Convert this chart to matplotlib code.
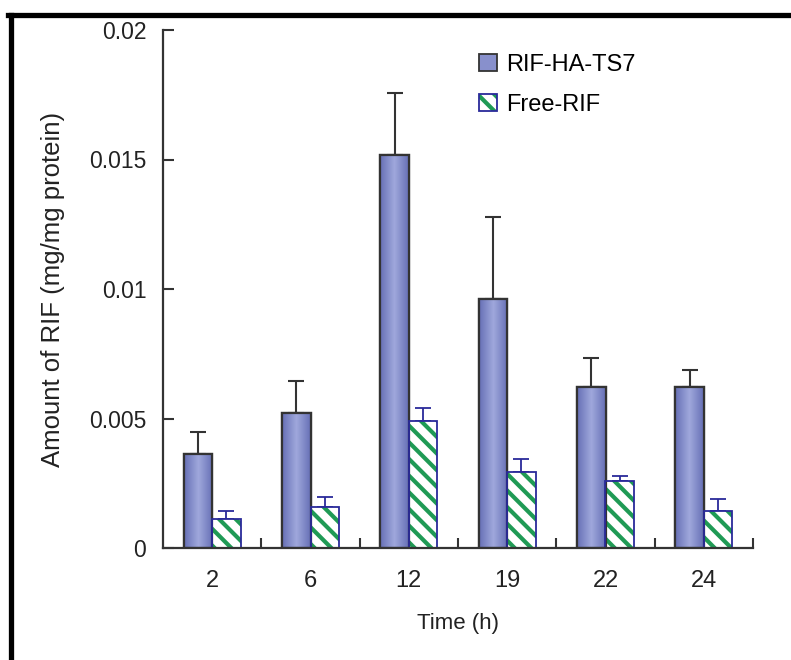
import numpy as np
import matplotlib
matplotlib.use('Agg')
import matplotlib.pyplot as plt
from matplotlib.lines import Line2D
from matplotlib.patches import Patch
from matplotlib.colors import LinearSegmentedColormap
from matplotlib.ticker import FuncFormatter, FixedLocator

plt.rcParams['font.family'] = ['Liberation Sans', 'DejaVu Sans']
plt.rcParams['hatch.linewidth'] = 3.0
FONT = 16

# ── Data ──────────────────────────────────────────────────────────────────────
times = ['2', '6', '12', '19', '22', '24']
conj_mean = [0.00363, 0.00522, 0.01517, 0.00961, 0.00622, 0.00622]
conj_err  = [0.00085, 0.00122, 0.00240, 0.00317, 0.00112, 0.00065]
free_mean = [0.00112, 0.00158, 0.00490, 0.00293, 0.00259, 0.00143]
free_err  = [0.00031, 0.00040, 0.00050, 0.00051, 0.00019, 0.00046]
series_names = ['RIF-HA-TS7', 'Free-RIF']

# ── Colours ───────────────────────────────────────────────────────────────────
col_dark  = '#6670b6'
col_light = '#a0a8dc'
col_edge  = '#333333'
col_green = '#1f9a55'
col_navy  = '#2a2a9a'

grad = LinearSegmentedColormap.from_list('bar', [col_dark, col_light, col_dark])

fig = plt.figure(figsize=(7.91, 6.60), dpi=100)
ax = fig.add_axes([163 / 791, 1 - 548 / 660, 590 / 791, 518 / 660])

x = np.arange(len(times))
w = 0.29

# blue bars with a horizontal shading
bars = ax.bar(x - w / 2, conj_mean, w, color=col_dark, edgecolor=col_edge,
              linewidth=1.6, zorder=2)
g = np.linspace(0, 1, 64).reshape(1, -1)
for b in bars:
    im = ax.imshow(g, cmap=grad, aspect='auto', zorder=2.1,
                   extent=[b.get_x(), b.get_x() + b.get_width(), 0, b.get_height()])
    im.set_clip_path(b)
    ax.bar(b.get_x() + b.get_width() / 2, b.get_height(), w, fill=False,
           edgecolor=col_edge, linewidth=1.6, zorder=2.2)
ax.errorbar(x - w / 2, conj_mean, yerr=[np.zeros(len(x)), conj_err], fmt='none',
            ecolor=col_edge, elinewidth=1.5, capsize=5.5, capthick=1.5, zorder=1.5)

# hatched green bars
ax.bar(x + w / 2, free_mean, w, color='white', edgecolor=col_green,
       hatch='\\\\', linewidth=0, zorder=2)
ax.bar(x + w / 2, free_mean, w, fill=False, edgecolor=col_navy,
       linewidth=1.3, zorder=2.2)
ax.errorbar(x + w / 2, free_mean, yerr=[np.zeros(len(x)), free_err], fmt='none',
            ecolor=col_navy, elinewidth=1.3, capsize=5.5, capthick=1.3, zorder=1.5)

# ── Axes ──────────────────────────────────────────────────────────────────────
ax.set_xlim(-0.5, len(x) - 0.5)
ax.set_ylim(0, 0.02)
ax.set_yticks([0, 0.005, 0.01, 0.015, 0.02])
ax.yaxis.set_major_formatter(FuncFormatter(lambda v, _: f'{v:g}'))
ax.set_xticks(x)
ax.set_xticklabels(times)
ax.xaxis.set_minor_locator(FixedLocator(x + 0.5))
ax.tick_params(axis='x', which='major', length=0, pad=16, labelsize=FONT + 1)
ax.tick_params(axis='x', which='minor', direction='in', length=7, width=1.5,
               color=col_edge)
ax.tick_params(axis='y', direction='in', length=8, width=1.5, color=col_edge,
               pad=12, labelsize=FONT + 0.5)
for s in ['top', 'right']:
    ax.spines[s].set_visible(False)
for s in ['left', 'bottom']:
    ax.spines[s].set_color(col_edge)
    ax.spines[s].set_linewidth(1.6)

ax.set_ylabel('Amount of RIF (mg/mg protein)', fontsize=FONT + 2.5, labelpad=17,
              color='#222222')
ax.set_xlabel('Time (h)', fontsize=FONT, labelpad=15, color='#222222')
ax.tick_params(labelcolor='#222222')

handles = [Patch(facecolor='#8890cc', edgecolor=col_edge, linewidth=1.3),
           (Patch(facecolor='white', edgecolor=col_green, hatch='\\\\', linewidth=0),
            Patch(fill=False, edgecolor=col_navy, linewidth=1.3))]
ax.legend(handles, series_names, loc='upper left', bbox_to_anchor=(0.50, 0.995),
          frameon=False, fontsize=FONT + 1, handlelength=0.75, handleheight=0.75,
          handletextpad=0.4, labelspacing=0.75)

# black frame lines at top and left
fig.add_artist(Line2D([8 / 791, 1], [1 - 14.5 / 660] * 2, color='black',
                      linewidth=3.8, transform=fig.transFigure))
fig.add_artist(Line2D([10.5 / 791] * 2, [0, 1 - 14.5 / 660], color='black',
                      linewidth=3.8, transform=fig.transFigure))

fig.savefig('out.png', dpi=100)
